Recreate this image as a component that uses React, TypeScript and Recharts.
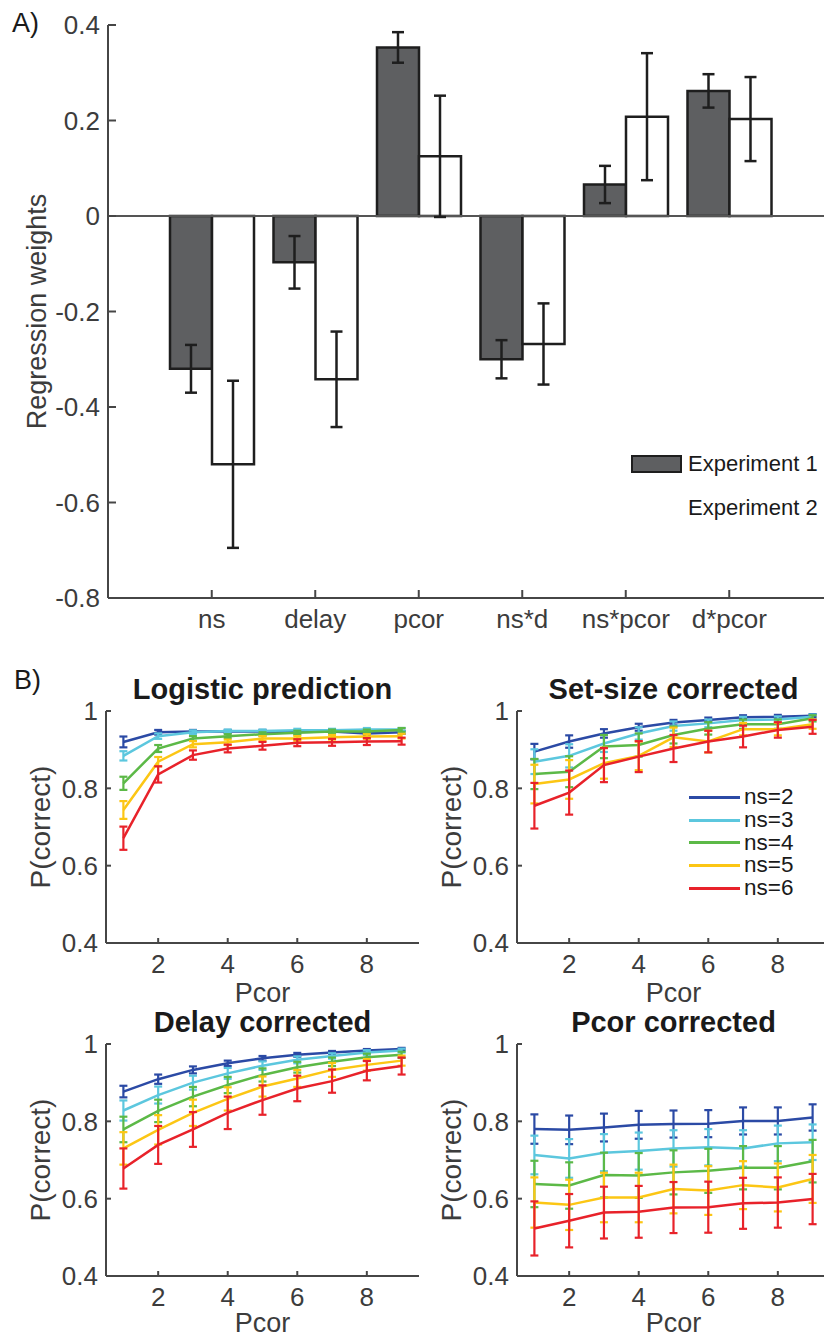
import { BarChart, Bar, LineChart, Line, XAxis, YAxis, ErrorBar, ReferenceLine, Legend } from "recharts"

const FONT = '"Liberation Sans", Arial, Helvetica, sans-serif'
const AXIS = "#464646"
const TEXT = "#3c3c3c"

// Panel A: regression weights
const terms = ["ns", "delay", "pcor", "ns*d", "ns*pcor", "d*pcor"]
const exp1Weights = [-0.32, -0.097, 0.353, -0.3, 0.066, 0.262]
const exp1Errors = [0.05, 0.055, 0.032, 0.04, 0.039, 0.035]
const exp2Weights = [-0.52, -0.342, 0.125, -0.268, 0.208, 0.203]
const exp2Errors = [0.175, 0.1, 0.127, 0.085, 0.133, 0.088]
const weightTicks = [-0.8, -0.6, -0.4, -0.2, 0, 0.2, 0.4]

// Panel B: P(correct) by pcor, one row per set size
const pcorLevels = [1, 2, 3, 4, 5, 6, 7, 8, 9]
const pcorTicks = [2, 4, 6, 8]
const accuracyTicks = [0.4, 0.6, 0.8, 1]
const setSizes = ["ns=2", "ns=3", "ns=4", "ns=5", "ns=6"]
const setSizeColors = ["#2b4aa5", "#5cc7de", "#5cb947", "#fcc614", "#e8222a"]

const logisticMean = [
  [0.92, 0.945, 0.947, 0.947, 0.947, 0.946, 0.947, 0.942, 0.945],
  [0.884, 0.935, 0.945, 0.948, 0.948, 0.95, 0.95, 0.952, 0.952],
  [0.813, 0.903, 0.929, 0.935, 0.94, 0.944, 0.947, 0.947, 0.951],
  [0.744, 0.869, 0.914, 0.919, 0.929, 0.929, 0.932, 0.934, 0.935],
  [0.671, 0.836, 0.886, 0.903, 0.91, 0.918, 0.919, 0.921, 0.922],
]
const logisticErr = [
  [0.014, 0.006, 0.004, 0.004, 0.004, 0.004, 0.004, 0.004, 0.004],
  [0.012, 0.007, 0.005, 0.004, 0.004, 0.004, 0.004, 0.004, 0.004],
  [0.017, 0.009, 0.006, 0.005, 0.005, 0.005, 0.005, 0.005, 0.005],
  [0.023, 0.012, 0.008, 0.007, 0.006, 0.006, 0.006, 0.006, 0.006],
  [0.03, 0.021, 0.012, 0.01, 0.01, 0.009, 0.009, 0.009, 0.009],
]

const setSizeMean = [
  [0.895, 0.921, 0.942, 0.958, 0.97, 0.977, 0.984, 0.985, 0.988],
  [0.869, 0.884, 0.916, 0.942, 0.961, 0.968, 0.977, 0.978, 0.985],
  [0.837, 0.843, 0.908, 0.912, 0.938, 0.955, 0.966, 0.966, 0.981],
  [0.811, 0.823, 0.865, 0.884, 0.932, 0.921, 0.953, 0.953, 0.966],
  [0.755, 0.789, 0.86, 0.882, 0.903, 0.921, 0.934, 0.951, 0.959],
]
const setSizeErr = [
  [0.02, 0.016, 0.011, 0.009, 0.007, 0.006, 0.005, 0.005, 0.004],
  [0.032, 0.03, 0.022, 0.016, 0.012, 0.01, 0.008, 0.008, 0.006],
  [0.039, 0.04, 0.03, 0.03, 0.022, 0.016, 0.012, 0.012, 0.008],
  [0.05, 0.05, 0.04, 0.037, 0.025, 0.028, 0.016, 0.016, 0.012],
  [0.059, 0.057, 0.044, 0.04, 0.035, 0.028, 0.028, 0.02, 0.018],
]

const delayMean = [
  [0.877, 0.909, 0.933, 0.95, 0.963, 0.972, 0.978, 0.983, 0.987],
  [0.828, 0.868, 0.9, 0.924, 0.944, 0.959, 0.969, 0.978, 0.983],
  [0.779, 0.827, 0.864, 0.894, 0.92, 0.94, 0.954, 0.966, 0.972],
  [0.73, 0.778, 0.822, 0.858, 0.89, 0.911, 0.933, 0.946, 0.957],
  [0.678, 0.739, 0.779, 0.822, 0.855, 0.885, 0.904, 0.931, 0.943],
]
const delayErr = [
  [0.015, 0.012, 0.009, 0.007, 0.006, 0.005, 0.004, 0.004, 0.003],
  [0.026, 0.022, 0.018, 0.014, 0.011, 0.009, 0.007, 0.006, 0.005],
  [0.033, 0.029, 0.025, 0.021, 0.017, 0.014, 0.011, 0.009, 0.008],
  [0.042, 0.038, 0.034, 0.03, 0.026, 0.022, 0.018, 0.015, 0.013],
  [0.052, 0.049, 0.045, 0.042, 0.038, 0.033, 0.03, 0.025, 0.022],
]

const pcorMean = [
  [0.78, 0.778, 0.784, 0.791, 0.793, 0.794, 0.801, 0.801, 0.81],
  [0.713, 0.704, 0.719, 0.723, 0.73, 0.733, 0.73, 0.743, 0.746],
  [0.638, 0.634, 0.661, 0.66, 0.668, 0.672, 0.68, 0.68, 0.697],
  [0.59, 0.584, 0.603, 0.603, 0.625, 0.621, 0.635, 0.629, 0.651],
  [0.523, 0.543, 0.564, 0.566, 0.577, 0.578, 0.588, 0.59, 0.599],
]
const pcorErr = [
  [0.038, 0.037, 0.036, 0.036, 0.035, 0.035, 0.035, 0.035, 0.034],
  [0.05, 0.05, 0.048, 0.048, 0.047, 0.047, 0.047, 0.046, 0.046],
  [0.06, 0.06, 0.058, 0.058, 0.057, 0.057, 0.056, 0.056, 0.055],
  [0.065, 0.065, 0.064, 0.064, 0.063, 0.063, 0.062, 0.062, 0.062],
  [0.07, 0.069, 0.067, 0.067, 0.066, 0.066, 0.066, 0.065, 0.065],
]

const weightRows = terms.map((term, i) => ({
  term,
  exp1: exp1Weights[i],
  exp1Err: exp1Errors[i],
  exp2: exp2Weights[i],
  exp2Err: exp2Errors[i],
}))

function buildRows(mean: number[][], err: number[][]) {
  return pcorLevels.map((pcor, i) => {
    const row: Record<string, number> = { pcor }
    mean.forEach((series, k) => {
      row[`m${k}`] = series[i]
      row[`e${k}`] = err[k][i]
    })
    return row
  })
}

const fmt = (v: number) => (v === 0 ? "0" : v === 1 ? "1" : v.toFixed(1))

function WeightsLegend() {
  const items = [
    { label: "Experiment 1", fill: "#5e5f61", border: "2px solid #1e1e1e" },
    { label: "Experiment 2", fill: "transparent", border: "none" },
  ]
  return (
    <div style={{ fontSize: 22, color: "#1a1a1a" }}>
      {items.map((it) => (
        <div key={it.label} style={{ display: "flex", alignItems: "center", height: 44 }}>
          <div style={{ width: 47, height: 14, background: it.fill, border: it.border, boxSizing: "content-box", marginRight: 6 }} />
          <span style={{ marginLeft: it.border === "none" ? 4 : 0 }}>{it.label}</span>
        </div>
      ))}
    </div>
  )
}

function SetSizeLegend() {
  return (
    <div style={{ fontSize: 22.5, color: "#1a1a1a" }}>
      {setSizes.map((name, k) => (
        <div key={name} style={{ display: "flex", alignItems: "center", height: 22.7 }}>
          <div style={{ width: 51, height: 3, background: setSizeColors[k], marginRight: 4 }} />
          <span style={{ lineHeight: "22px" }}>{name}</span>
        </div>
      ))}
    </div>
  )
}

function WeightsChart() {
  return (
    <BarChart
      width={824}
      height={645}
      data={weightRows}
      margin={{ top: 25, right: 0, left: 8, bottom: 7 }}
      barSize={42}
      barGap={0}
    >
      <XAxis
        dataKey="term"
        type="category"
        padding={{ left: 52, right: 43 }}
        height={40}
        interval={0}
        axisLine={{ stroke: AXIS, strokeWidth: 2 }}
        tickLine={{ stroke: AXIS, strokeWidth: 2 }}
        tickSize={-8}
        tickMargin={20}
        tick={{ fill: TEXT, fontSize: 26 }}
      />
      <YAxis
        type="number"
        domain={[-0.8, 0.4]}
        ticks={weightTicks}
        interval={0}
        width={100}
        tickFormatter={fmt}
        axisLine={{ stroke: AXIS, strokeWidth: 2 }}
        tickLine={{ stroke: AXIS, strokeWidth: 2 }}
        tickSize={-8}
        tickMargin={16}
        tick={{ fill: TEXT, fontSize: 26 }}
        label={{
          value: "Regression weights",
          angle: -90,
          position: "insideLeft",
          offset: 28,
          style: { textAnchor: "middle", fontSize: 27, fill: TEXT },
        }}
      />
      <ReferenceLine y={0} stroke="#555" strokeWidth={2} />
      <Bar dataKey="exp1" name="Experiment 1" fill="#5e5f61" stroke="#1e1e1e" strokeWidth={2.5} isAnimationActive={false}>
        <ErrorBar dataKey="exp1Err" width={6} strokeWidth={2.5} stroke="#1e1e1e" />
      </Bar>
      <Bar dataKey="exp2" name="Experiment 2" fill="#ffffff" stroke="#1e1e1e" strokeWidth={2.5} isAnimationActive={false}>
        <ErrorBar dataKey="exp2Err" width={6} strokeWidth={2.5} stroke="#1e1e1e" />
      </Bar>
      <Legend
        layout="vertical"
        align="center"
        verticalAlign="middle"
        content={() => <WeightsLegend />}
        wrapperStyle={{ left: 631, top: 442, width: 200 }}
      />
    </BarChart>
  )
}

interface PanelProps {
  title: string
  mean: number[][]
  err: number[][]
  left: number
  top: number
  labelOffset: number
  showLegend?: boolean
}

function AccuracyPanel({ title, mean, err, left, top, labelOffset, showLegend }: PanelProps) {
  const rows = buildRows(mean, err)
  return (
    <div style={{ position: "absolute", left, top, width: 440, height: 380 }}>
      <div
        style={{
          position: "absolute",
          left: 0,
          width: 525,
          top: 35,
          textAlign: "center",
          fontSize: 29,
          lineHeight: "29px",
          fontWeight: "bold",
          color: "#1a1a1a",
          whiteSpace: "nowrap",
        }}
      >
        {title}
      </div>
      <LineChart width={440} height={380} data={rows} margin={{ top: 71, right: 21, left: 36, bottom: 18 }}>
        <XAxis
          type="number"
          dataKey="pcor"
          domain={[0.5, 9.5]}
          ticks={pcorTicks}
          interval={0}
          height={59}
          axisLine={{ stroke: AXIS, strokeWidth: 2 }}
          tickLine={{ stroke: AXIS, strokeWidth: 2 }}
          tickSize={-5}
          tickMargin={17}
          tick={{ fill: TEXT, fontSize: 26 }}
          label={{ value: "Pcor", position: "insideBottom", offset: labelOffset, style: { fontSize: 27, fill: TEXT } }}
        />
        <YAxis
          type="number"
          domain={[0.4, 1]}
          ticks={accuracyTicks}
          interval={0}
          width={70}
          tickFormatter={fmt}
          axisLine={{ stroke: AXIS, strokeWidth: 2 }}
          tickLine={{ stroke: AXIS, strokeWidth: 2 }}
          tickSize={-5}
          tickMargin={13}
          tick={{ fill: TEXT, fontSize: 26 }}
          label={{
            value: "P(correct)",
            angle: -90,
            position: "insideLeft",
            offset: 4,
            style: { textAnchor: "middle", fontSize: 28, fill: TEXT },
          }}
        />
        {setSizes.map((name, k) => (
          <Line
            key={name}
            type="linear"
            dataKey={`m${k}`}
            name={name}
            stroke={setSizeColors[k]}
            strokeWidth={2.5}
            dot={false}
            isAnimationActive={false}
          >
            <ErrorBar dataKey={`e${k}`} width={4} strokeWidth={2.2} stroke={setSizeColors[k]} />
          </Line>
        ))}
        {showLegend && (
          <Legend
            layout="vertical"
            align="center"
            verticalAlign="middle"
            content={() => <SetSizeLegend />}
            wrapperStyle={{ left: 278, top: 146, width: 150 }}
          />
        )}
      </LineChart>
    </div>
  )
}

export default function App() {
  return (
    <div
      style={{
        position: "absolute",
        left: 0,
        top: 0,
        width: 824,
        height: 1339,
        overflow: "hidden",
        background: "#fff",
        fontFamily: FONT,
      }}
    >
      <div style={{ position: "absolute", left: 0, top: 0 }}>
        <WeightsChart />
      </div>
      <div style={{ position: "absolute", left: 12, top: 10, fontSize: 27, lineHeight: "27px", color: "#1a1a1a" }}>A)</div>
      <div style={{ position: "absolute", left: 14, top: 667, fontSize: 27, lineHeight: "27px", color: "#1a1a1a" }}>B)</div>
      <AccuracyPanel title="Logistic prediction" mean={logisticMean} err={logisticErr} left={0} top={640} labelOffset={0} />
      <AccuracyPanel title="Set-size corrected" mean={setSizeMean} err={setSizeErr} left={411} top={640} labelOffset={0} showLegend />
      <AccuracyPanel title="Delay corrected" mean={delayMean} err={delayErr} left={0} top={973} labelOffset={3} />
      <AccuracyPanel title="Pcor corrected" mean={pcorMean} err={pcorErr} left={411} top={973} labelOffset={3} />
    </div>
  )
}
